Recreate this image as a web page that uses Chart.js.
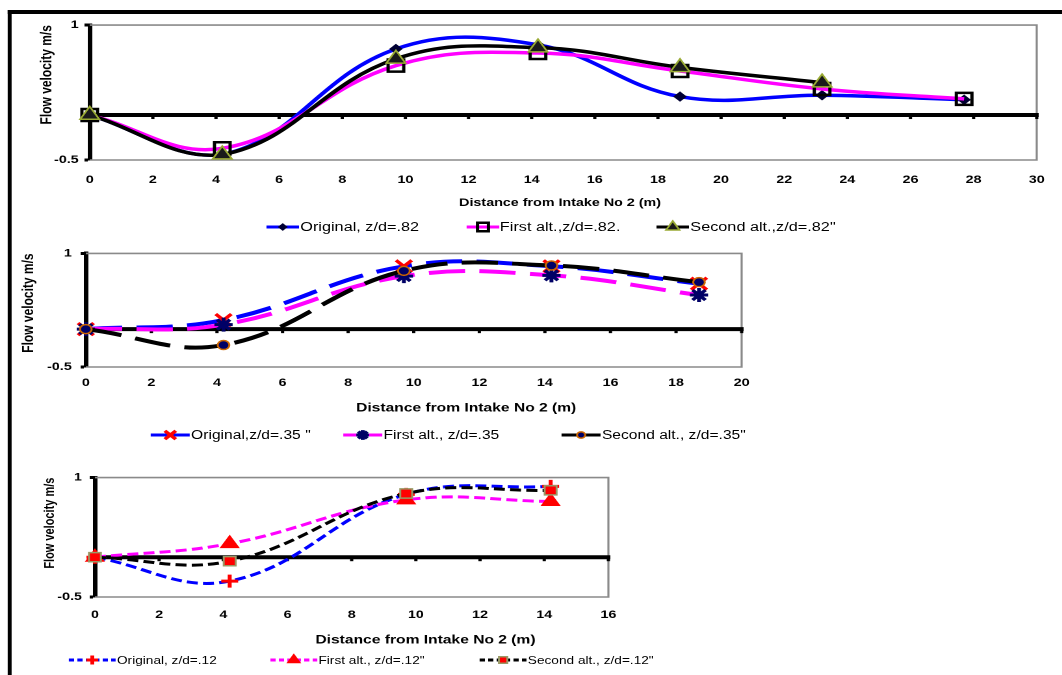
<!DOCTYPE html>
<html>
<head>
<meta charset="utf-8">
<title>Flow velocity</title>
<script src="https://cdn.jsdelivr.net/npm/chart.js@4.4.1/dist/chart.umd.min.js"></script>
<style>
html,body{margin:0;padding:0;background:#fff;overflow:hidden;width:1062px;height:675px}
/* the original figure is stretched sideways, so the whole page is too */
#page{position:absolute;left:0;top:0;width:817px;height:675px;transform:scaleX(1.3);transform-origin:0 0;font-family:Arial,"Liberation Sans",sans-serif}
#frame{position:absolute;left:6.2px;top:10px;width:900px;height:700px;border-top:4px solid #000;border-left:3.1px solid #000}
.box{position:absolute}
.legend{position:absolute;left:0;width:810px;height:16px}
.item{position:absolute;top:0;height:16px;display:flex;align-items:center;white-space:nowrap;color:#000}
</style>
</head>
<body>
<div id="page">
  <div id="frame"></div>
  <div class="box" style="left:9px;top:14px;width:808px;height:200px"><canvas id="c82"></canvas></div>
  <div class="legend" id="l82" style="top:219px"></div>
  <div class="box" style="left:9px;top:240px;width:577px;height:180px"><canvas id="c35"></canvas></div>
  <div class="legend" id="l35" style="top:427px"></div>
  <div class="box" style="left:9px;top:465px;width:483px;height:190px"><canvas id="c12"></canvas></div>
  <div class="legend" id="l12" style="top:652px"></div>
</div>
<script>
Chart.defaults.font.family = 'Arial, "Liberation Sans", sans-serif';
Chart.defaults.color = '#000';

// z/d = .82
const dist82 = [0, 4.2, 9.7, 14.2, 18.7, 23.2, 27.7];
const orig82 = [0, -0.44, 0.735, 0.78, 0.205, 0.22, 0.17];
const first82 = [0, -0.37, 0.55, 0.69, 0.49, 0.29, 0.18];
const second82 = [0, -0.44, 0.625, 0.75, 0.53, 0.36];
// z/d = .35
const dist35 = [0, 4.2, 9.7, 14.2, 18.7];
const orig35 = [0, 0.12, 0.83, 0.83, 0.60];
const first35 = [0, 0.06, 0.70, 0.71, 0.45];
const second35 = [0, -0.21, 0.77, 0.84, 0.62];
// z/d = .12
const dist12 = [0, 4.2, 9.7, 14.2];
const orig12 = [0, -0.30, 0.79, 0.89];
const first12 = [0, 0.17, 0.72, 0.70];
const second12 = [0, -0.05, 0.80, 0.84];

const yTicks = [-0.5, 1];
const xStep = 2;
const yTitle = 'Flow velocity m/s';
const xTitle = 'Distance from Intake No 2 (m)';
const labels82 = ['Original, z/d=.82', 'First alt.,z/d=.82.', 'Second alt.,z/d=.82"'];
const labels35 = ['Original,z/d=.35 "', 'First alt., z/d=.35', 'Second alt., z/d=.35"'];
const labels12 = ['Original, z/d=.12', 'First alt., z/d=.12"', 'Second alt., z/d=.12"'];

function pts(xs, ys) {
    return ys.map(function(v, i) { return {x: xs[i], y: v}; });
}

// grey plot box, thick zero line with its little ticks
const framePlugin = {
    id: 'frame',
    beforeDatasetsDraw(chart) {
        const {ctx, chartArea: a, scales: {x, y}} = chart;
        ctx.save();
        ctx.strokeStyle = '#8a8a8a';
        ctx.lineWidth = 1.6;
        ctx.beginPath();
        ctx.moveTo(a.left, a.top); ctx.lineTo(a.right, a.top);
        ctx.lineTo(a.right, a.bottom); ctx.lineTo(a.left, a.bottom);
        ctx.stroke();
        const y0 = y.getPixelForValue(0);
        ctx.strokeStyle = '#000';
        ctx.lineWidth = 4;
        ctx.beginPath(); ctx.moveTo(a.left, y0); ctx.lineTo(a.right + 1.5, y0); ctx.stroke();
        ctx.lineWidth = 2.5;
        x.ticks.forEach(function(t) {
            const px = x.getPixelForValue(t.value);
            ctx.beginPath(); ctx.moveTo(px, y0); ctx.lineTo(px, y0 + 4); ctx.stroke();
        });
        ctx.restore();
    }
};

// axis title under the x ticks, placed at a given distance value
const xTitlePlugin = {
    id: 'xTitleAt',
    afterDraw(chart, args, o) {
        const {ctx, chartArea, scales} = chart;
        ctx.save();
        ctx.font = 'bold ' + o.size + 'px Arial, "Liberation Sans", sans-serif';
        ctx.fillStyle = '#000';
        ctx.textAlign = 'center';
        ctx.textBaseline = 'middle';
        ctx.fillText(o.text, scales.x.getPixelForValue(o.at), chartArea.bottom + o.dy);
        ctx.restore();
    }
};

function makeChart(id, cfg) {
    return new Chart(document.getElementById(id), {
        type: 'line',
        data: {
            datasets: cfg.series.map(function(s, i) {
                return {
                    label: s.label, data: s.data, order: 3 - i,
                    borderColor: s.color, borderWidth: s.width, borderDash: s.dash || [],
                    tension: 0.4, fill: false, clip: false,
                    pointStyle: s.style, pointRadius: s.radius, pointHoverRadius: s.radius,
                    pointBackgroundColor: s.fill, pointBorderColor: s.stroke, pointBorderWidth: s.pw
                };
            })
        },
        options: {
            responsive: true, maintainAspectRatio: false, animation: false, devicePixelRatio: 2,
            events: [],
            layout: {padding: {left: 0, right: cfg.padRight, top: cfg.padTop, bottom: 0}},
            plugins: {legend: {display: false}, tooltip: {enabled: false}, xTitleAt: cfg.xTitle},
            scales: {
                x: {
                    type: 'linear', min: 0, max: cfg.xMax,
                    ticks: {stepSize: xStep, font: {size: 11, weight: 'bold'}, padding: cfg.xTickPad, maxRotation: 0, autoSkip: false},
                    grid: {display: false, drawTicks: false},
                    border: {display: false},
                    afterFit: function(s) { s.height = cfg.xHeight; }
                },
                y: {
                    type: 'linear', min: yTicks[0], max: yTicks[yTicks.length - 1],
                    afterBuildTicks: function(s) { s.ticks = yTicks.map(function(v) { return {value: v}; }); },
                    ticks: {font: {size: 11, weight: 'bold'}, padding: cfg.yTickPad, callback: function(v) { return String(v); }},
                    grid: {drawOnChartArea: false, drawTicks: true, tickLength: 4, tickColor: '#000', tickWidth: 3},
                    border: {display: true, color: '#000', width: 3.5},
                    title: {display: true, text: yTitle, align: 'end',
                        font: {size: cfg.yTitleSize, weight: 'bold', lineHeight: 1.2},
                        padding: {top: cfg.yTitlePad, bottom: 0}},
                    afterFit: function(s) { s.width = cfg.yWidth; }
                }
            }
        },
        plugins: [framePlugin, xTitlePlugin]
    });
}

function makeLegend(id, series, cfg) {
    const box = document.getElementById(id);
    series.forEach(function(s, i) {
        const item = document.createElement('div');
        item.className = 'item';
        item.style.left = cfg.at[i] + 'px';
        item.style.fontSize = cfg.size + 'px';
        if (cfg.spacing) item.style.letterSpacing = cfg.spacing + 'px';
        const c = document.createElement('canvas');
        c.width = cfg.sw * 2; c.height = 32;
        c.style.width = cfg.sw + 'px'; c.style.height = '16px';
        const ctx = c.getContext('2d');
        ctx.scale(2, 2);
        ctx.strokeStyle = s.color;
        ctx.lineWidth = Math.min(s.width, 3);
        ctx.setLineDash(cfg.dash || []);
        ctx.beginPath(); ctx.moveTo(0, 8); ctx.lineTo(cfg.sw, 8); ctx.stroke();
        ctx.setLineDash([]);
        ctx.fillStyle = s.fill; ctx.strokeStyle = s.stroke; ctx.lineWidth = s.pw;
        if (Chart.helpers && Chart.helpers.drawPoint) {
            Chart.helpers.drawPoint(ctx, {pointStyle: s.style, radius: s.radius * 0.7, rotation: 0, borderWidth: s.pw}, cfg.sw / 2, 8);
        }
        const t = document.createElement('span');
        t.textContent = s.label;
        t.style.marginLeft = '1px';
        item.appendChild(c); item.appendChild(t);
        box.appendChild(item);
    });
}

const s82 = [
    {label: labels82[0], data: pts(dist82, orig82), color: '#0000ff', width: 3.5, style: 'rectRot', radius: 4.5, fill: '#000033', stroke: '#000033', pw: 1},
    {label: labels82[1], data: pts(dist82, first82), color: '#ff00ff', width: 3.5, style: 'rect', radius: 8.5, fill: 'rgba(0,0,0,0)', stroke: '#000', pw: 2.5},
    {label: labels82[2], data: pts(dist82, second82), color: '#000000', width: 3.5, style: 'triangle', radius: 8.5, fill: '#1a1a1a', stroke: '#99aa33', pw: 1.5}
];
const s35 = [
    {label: labels35[0], data: pts(dist35, orig35), color: '#0000ff', width: 4, dash: [28, 11], style: 'crossRot', radius: 8.5, fill: '#ff0000', stroke: '#ff0000', pw: 3},
    {label: labels35[1], data: pts(dist35, first35), color: '#ff00ff', width: 4, dash: [28, 11], style: 'star', radius: 7, fill: '#000066', stroke: '#000066', pw: 3},
    {label: labels35[2], data: pts(dist35, second35), color: '#000000', width: 4, dash: [28, 11], style: 'circle', radius: 4.5, fill: '#000066', stroke: '#cc6600', pw: 1.5}
];
const s12 = [
    {label: labels12[0], data: pts(dist12, orig12), color: '#0000ff', width: 3, dash: [8.5, 4], style: 'cross', radius: 6.5, fill: '#ff0000', stroke: '#ff0000', pw: 3},
    {label: labels12[1], data: pts(dist12, first12), color: '#ff00ff', width: 3, dash: [8.5, 4], style: 'triangle', radius: 8, fill: '#ff0000', stroke: '#ff0000', pw: 1},
    {label: labels12[2], data: pts(dist12, second12), color: '#000000', width: 3, dash: [8.5, 4], style: 'rect', radius: 6.5, fill: '#ff0000', stroke: '#999966', pw: 1.5}
];

makeChart('c82', {series: s82, xMax: 30, padTop: 10, padRight: 11, xHeight: 54, yWidth: 60,
    xTickPad: 13.4, yTickPad: 4.5, yTitlePad: 20, yTitleSize: 12,
    xTitle: {text: xTitle, at: 14.9, dy: 43, size: 11}});
makeChart('c35', {series: s35, xMax: 20, padTop: 12, padRight: 15, xHeight: 53, yWidth: 57,
    xTickPad: 9.4, yTickPad: 6.8, yTitlePad: 6, yTitleSize: 12,
    xTitle: {text: xTitle, at: 11.6, dy: 41, size: 12}});
makeChart('c12', {series: s12, xMax: 16, padTop: 12, padRight: 24, xHeight: 58, yWidth: 64,
    xTickPad: 11.4, yTickPad: 6, yTitlePad: 23, yTitleSize: 11,
    xTitle: {text: xTitle, at: 10.3, dy: 43, size: 12}});

makeLegend('l82', s82, {at: [205, 358.5, 505], sw: 25, size: 12.5});
makeLegend('l35', s35, {at: [116, 264, 432], sw: 30, size: 12});
makeLegend('l12', s12, {at: [53, 208, 369], sw: 36, size: 10.5, dash: [4, 2.5]});
</script>
</body>
</html>
